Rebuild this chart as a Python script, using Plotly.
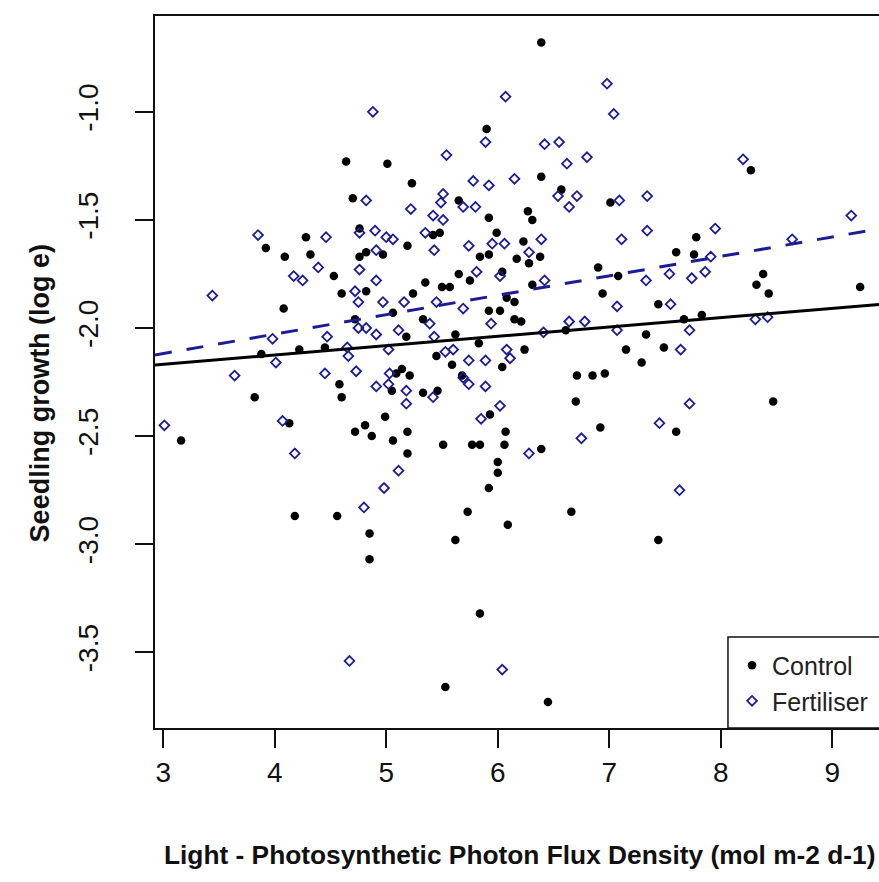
import plotly.graph_objects as go

# ---------------- data ----------------
ctrl_x = [6.39, 5.90, 4.64, 5.01, 5.23, 4.70, 5.65, 5.92, 5.99, 4.76, 4.28, 3.92, 4.32, 4.09,
          4.82, 4.76, 4.97, 5.19, 5.42, 5.48, 5.84, 5.92, 8.27, 6.39, 6.57, 7.01, 6.27, 6.31,
          6.23, 7.78, 7.60, 7.76, 6.38, 6.17, 6.90, 7.08, 6.28, 8.38, 8.32, 8.43, 9.25, 6.94,
          6.31, 6.08, 6.15, 7.44, 6.02, 6.15, 6.21, 6.61, 7.67, 7.83, 7.33, 6.24, 7.15, 7.49,
          7.29, 6.04, 6.71, 6.85, 6.96, 6.70, 8.47, 6.92, 7.60, 6.07, 6.06, 6.39, 6.00, 6.00,
          4.08, 4.53, 4.60, 5.65, 5.75, 6.04, 5.24, 5.35, 5.50, 5.57, 4.82, 5.06, 5.33, 5.92,
          4.72, 5.18, 5.62, 5.83, 3.88, 4.22, 4.45, 5.45, 5.59, 5.14, 5.09, 5.21, 5.68, 4.58,
          4.60, 5.05, 5.33, 5.46, 3.82, 4.99, 4.81, 4.72, 4.87, 5.06, 5.19, 5.19, 5.51, 5.77,
          5.84, 5.92, 4.13, 3.16, 4.18, 4.56, 4.85, 4.85, 5.73, 5.62, 6.09, 5.84, 5.53, 6.66,
          7.44, 6.45, 5.93]
ctrl_y = [-0.68, -1.08, -1.23, -1.24, -1.33, -1.40, -1.41, -1.49, -1.56, -1.54, -1.58, -1.63, -1.66, -1.67,
          -1.65, -1.67, -1.66, -1.62, -1.57, -1.56, -1.67, -1.66, -1.27, -1.30, -1.36, -1.42, -1.46, -1.50,
          -1.60, -1.58, -1.65, -1.66, -1.67, -1.68, -1.72, -1.76, -1.70, -1.75, -1.80, -1.84, -1.81, -1.84,
          -1.80, -1.86, -1.88, -1.89, -1.92, -1.96, -1.97, -2.01, -1.96, -1.94, -2.03, -2.10, -2.10, -2.09,
          -2.16, -2.18, -2.22, -2.22, -2.21, -2.34, -2.34, -2.46, -2.48, -2.48, -2.54, -2.56, -2.62, -2.67,
          -1.91, -1.76, -1.84, -1.75, -1.78, -1.74, -1.84, -1.79, -1.81, -1.81, -1.83, -1.93, -1.96, -1.92,
          -1.96, -2.04, -2.03, -2.07, -2.12, -2.10, -2.09, -2.13, -2.17, -2.19, -2.21, -2.22, -2.22, -2.26,
          -2.32, -2.29, -2.30, -2.29, -2.32, -2.41, -2.45, -2.48, -2.50, -2.52, -2.48, -2.58, -2.54, -2.54,
          -2.54, -2.74, -2.44, -2.52, -2.87, -2.87, -2.95, -3.07, -2.85, -2.98, -2.91, -3.32, -3.66, -2.85,
          -2.98, -3.73, -2.40]

fert_x = [4.88, 6.07, 5.89, 5.54, 5.78, 5.92, 4.82, 5.22, 5.51, 5.49, 5.69, 5.80, 5.42, 5.51,
          5.35, 4.90, 5.00, 5.06, 4.76, 4.46, 3.85, 4.91, 5.43, 5.74, 5.95, 6.06, 6.98, 7.04,
          6.42, 6.55, 6.62, 6.80, 6.15, 8.20, 6.54, 6.71, 6.64, 7.09, 7.34, 6.39, 7.11, 7.34,
          7.95, 9.17, 8.64, 6.28, 7.91, 7.54, 7.86, 7.74, 7.33, 6.42, 7.07, 7.55, 6.64, 6.78,
          8.31, 8.42, 6.41, 7.07, 7.72, 7.64, 6.08, 6.11, 6.02, 7.72, 7.45, 6.75, 6.28, 7.63,
          4.39, 4.17, 4.25, 3.44, 4.76, 4.91, 4.72, 4.75, 4.97, 5.16, 5.45, 5.69, 5.81, 6.02,
          5.39, 5.94, 4.75, 4.82, 4.91, 5.11, 4.47, 3.98, 5.43, 4.65, 4.66, 5.02, 5.53, 5.60,
          5.74, 5.89, 4.01, 3.64, 4.45, 4.73, 4.91, 5.02, 5.18, 5.18, 5.42, 5.74, 5.89, 5.69,
          5.85, 4.07, 3.01, 4.18, 5.11, 4.98, 4.80, 4.67, 6.04, 5.03]
fert_y = [-1.00, -0.93, -1.14, -1.20, -1.32, -1.34, -1.41, -1.45, -1.38, -1.42, -1.44, -1.44, -1.48, -1.50,
          -1.56, -1.55, -1.58, -1.59, -1.56, -1.58, -1.57, -1.64, -1.64, -1.62, -1.61, -1.61, -0.87, -1.01,
          -1.15, -1.14, -1.24, -1.21, -1.31, -1.22, -1.39, -1.39, -1.44, -1.41, -1.39, -1.59, -1.59, -1.55,
          -1.54, -1.48, -1.59, -1.65, -1.67, -1.75, -1.74, -1.77, -1.78, -1.78, -1.90, -1.89, -1.97, -1.97,
          -1.96, -1.95, -2.02, -2.01, -2.01, -2.10, -2.10, -2.14, -2.36, -2.35, -2.44, -2.51, -2.58, -2.75,
          -1.72, -1.76, -1.78, -1.85, -1.73, -1.78, -1.83, -1.88, -1.88, -1.88, -1.88, -1.91, -1.74, -1.76,
          -1.98, -1.98, -2.00, -2.00, -2.03, -2.01, -2.04, -2.05, -2.04, -2.09, -2.13, -2.10, -2.11, -2.10,
          -2.15, -2.15, -2.16, -2.22, -2.21, -2.20, -2.27, -2.26, -2.29, -2.35, -2.32, -2.26, -2.27, -2.23,
          -2.42, -2.43, -2.45, -2.58, -2.66, -2.74, -2.83, -3.54, -3.58, -2.21]

# regression fits: (intercept, slope)
ctrl_fit = (-2.297, 0.0431)
fert_fit = (-2.388, 0.0899)

x_range = [2.926, 9.419]
y_range = [-3.850, -0.557]
x_ticks = [3, 4, 5, 6, 7, 8, 9]
x_ticklabels = ["3", "4", "5", "6", "7", "8", "9"]
y_ticks = [-1.0, -1.5, -2.0, -2.5, -3.0, -3.5]
y_ticklabels = ["-1.0", "-1.5", "-2.0", "-2.5", "-3.0", "-3.5"]

series_names = ["Control", "Fertiliser"]
x_title = "Light - Photosynthetic Photon Flux Density (mol m-2 d-1)"
y_title = "Seedling growth (log e)"

# ---------------- styles ----------------
BLUE = "#1c1c96"
REG = "Liberation Sans, Arial, sans-serif"

fig = go.Figure()

fig.add_trace(go.Scatter(
    x=ctrl_x, y=ctrl_y, mode="markers", name=series_names[0],
    marker=dict(symbol="circle", size=8.5, color="black", line=dict(width=0)),
))
fig.add_trace(go.Scatter(
    x=fert_x, y=fert_y, mode="markers", name=series_names[1],
    marker=dict(symbol="diamond-open", size=7.5, color=BLUE, line=dict(width=1.8, color=BLUE)),
))

# fitted lines across the full axis range
fig.add_trace(go.Scatter(
    x=x_range, y=[ctrl_fit[0] + ctrl_fit[1] * v for v in x_range],
    mode="lines", line=dict(color="black", width=3), showlegend=False, hoverinfo="skip",
))
fig.add_trace(go.Scatter(
    x=x_range, y=[fert_fit[0] + fert_fit[1] * v for v in x_range],
    mode="lines", line=dict(color=BLUE, width=3, dash="17px,15px"), showlegend=False, hoverinfo="skip",
))

fig.update_layout(
    width=879, height=882,
    margin=dict(l=155, r=0, t=16, b=154),
    paper_bgcolor="white", plot_bgcolor="white",
    showlegend=True,
    legend=dict(
        x=0.797, y=0.12, xanchor="left", yanchor="top",
        bgcolor="rgba(0,0,0,0)", borderwidth=0,
        font=dict(family=REG, size=25, color="#222"),
        itemwidth=30,
    ),
    xaxis=dict(
        range=x_range, tickvals=x_ticks, ticktext=x_ticklabels,
        showline=True, linecolor="#111", linewidth=2, mirror=True,
        ticks="outside", ticklen=18, tickwidth=2, tickcolor="#111",
        tickfont=dict(family=REG, size=28, color="#111"),
        ticklabelstandoff=0,
        showgrid=False, zeroline=False,
    ),
    yaxis=dict(
        range=y_range, tickvals=y_ticks, ticktext=y_ticklabels,
        showline=True, linecolor="#111", linewidth=2, mirror=False,
        ticks="outside", ticklen=18, tickwidth=2, tickcolor="#111",
        tickfont=dict(family=REG, size=28, color="#111"),
        tickangle=-90, ticklabelstandoff=26,
        showgrid=False, zeroline=False,
    ),
    shapes=[dict(
        type="rect", xref="paper", yref="paper",
        x0=0.7914, x1=1.2, y0=0, y1=0.1278,
        line=dict(color="#111", width=1.5), fillcolor="white", layer="above",
    )],
    annotations=[
        dict(text="<b>%s</b>" % x_title, xref="paper", yref="paper",
             x=0.504, y=-0.1784, xanchor="center", yanchor="middle", showarrow=False,
             font=dict(family=REG, size=26.3, color="#111")),
        dict(text="<b>%s</b>" % y_title, xref="paper", yref="paper",
             x=-0.1588, y=0.47, xanchor="center", yanchor="middle", showarrow=False,
             textangle=-90, font=dict(family=REG, size=27, color="#111")),
    ],
)

fig.write_html("out.html")
